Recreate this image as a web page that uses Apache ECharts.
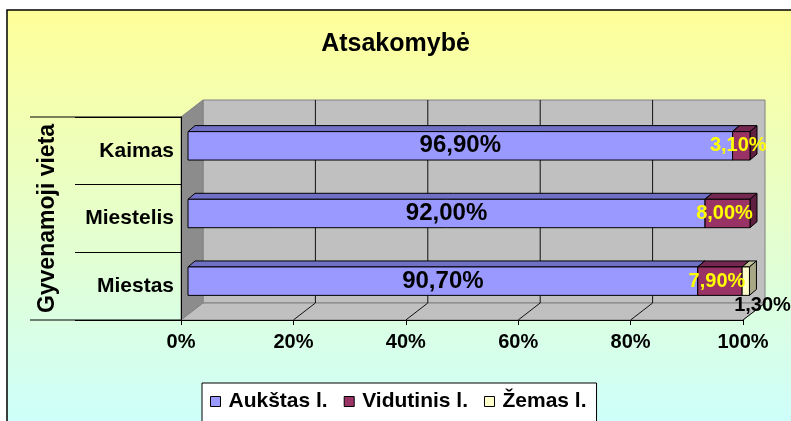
<!DOCTYPE html>
<html lang="lt">
<head>
    <meta charset="UTF-8">
    <title>Atsakomybė</title>
    <script src="https://cdn.jsdelivr.net/npm/echarts@6/dist/echarts.min.js"></script>
    <style>
        html, body { margin: 0; padding: 0; background: #fff; }
        #chart1 { width: 791px; height: 421px; }
    </style>
</head>
<body>
<div id="chart1"></div>
<script>
    // duomenys
    var categories = ['Miestas', 'Miestelis', 'Kaimas'];
    var seriesNames = ['Aukštas l.', 'Vidutinis l.', 'Žemas l.'];
    var aukstas = [90.7, 92.0, 96.9];
    var vidutinis = [7.9, 8.0, 3.1];
    var zemas = [1.3, 0, 0];
    var xTicks = [0, 20, 40, 60, 80, 100];

    var FONT = 'Liberation Sans, Arial, sans-serif';
    // 3D gylis: sienos ir stulpeliai
    var WX = 22, WY = -17;
    var OX = 7, OY = -5;
    var BX = 7, BY = -6;
    var TICK = 106, FRAME = 151;

    var faces = [
        {front: '#9999ff', top: '#7070c4', side: '#5c5ca8'},
        {front: '#993366', top: '#742750', side: '#5e1f41'},
        {front: '#ffffcc', top: '#c4c49c', side: '#a8a886'}
    ];

    function fmt(v) {
        return v.toFixed(2).replace('.', ',') + '%';
    }

    function renderWalls(params, api) {
        var band = api.size([0, 1])[1];
        var pL = api.coord([xTicks[0], 0]);
        var pR = api.coord([xTicks[xTicks.length - 1], categories.length - 1]);
        var left = pL[0], right = pR[0];
        var bottom = pL[1] + band / 2, top = pR[1] - band / 2;
        var children = [
            {type: 'rect', shape: {x: left + WX, y: top + WY, width: right - left, height: bottom - top},
                style: {fill: '#c0c0c0', stroke: '#808080', lineWidth: 1}},
            {type: 'polygon', shape: {points: [[left, top], [left + WX, top + WY], [left + WX, bottom + WY], [left, bottom]]},
                style: {fill: '#8c8c8c', stroke: '#808080', lineWidth: 1}},
            {type: 'polygon', shape: {points: [[left, bottom], [left + WX, bottom + WY], [right + WX, bottom + WY], [right, bottom]]},
                style: {fill: '#c0c0c0', stroke: '#808080', lineWidth: 1}},
            // kategoriju sriities remas
            {type: 'line', shape: {x1: left - FRAME, y1: top, x2: left, y2: top}, style: {stroke: '#000', lineWidth: 1}},
            {type: 'line', shape: {x1: left - FRAME, y1: bottom, x2: left, y2: bottom}, style: {stroke: '#000', lineWidth: 1}}
        ];
        for (var i = 1; i < xTicks.length; i++) {
            var x = api.coord([xTicks[i], 0])[0];
            if (i < xTicks.length - 1) {
                children.push({type: 'line', shape: {x1: x + WX, y1: top + WY, x2: x + WX, y2: bottom + WY},
                    style: {stroke: '#111', lineWidth: 1}});
            }
            children.push({type: 'line', shape: {x1: x, y1: bottom, x2: x + WX, y2: bottom + WY},
                style: {stroke: '#111', lineWidth: 1}});
        }
        return {type: 'group', children: children};
    }

    function makeRender(idx) {
        return function (params, api) {
            var cat = api.value(0), base = api.value(1), val = api.value(2);
            if (!(val > 0)) return;
            var band = api.size([0, 1])[1];
            var h = band * 0.42;
            var p0 = api.coord([base, cat]);
            var p1 = api.coord([base + val, cat]);
            var x0 = p0[0] + OX, x1 = p1[0] + OX, yc = p0[1] + OY;
            var t = yc - h / 2, b = yc + h / 2;
            var c = faces[idx];
            var line = {stroke: '#000', lineWidth: 1};
            var children = [
                {type: 'polygon', shape: {points: [[x0, t], [x0 + BX, t + BY], [x1 + BX, t + BY], [x1, t]]},
                    style: Object.assign({fill: c.top}, line)},
                {type: 'polygon', shape: {points: [[x1, t], [x1 + BX, t + BY], [x1 + BX, b + BY], [x1, b]]},
                    style: Object.assign({fill: c.side}, line)},
                {type: 'rect', shape: {x: x0, y: t, width: x1 - x0, height: h},
                    style: Object.assign({fill: c.front}, line)}
            ];
            var lab;
            if (idx === 0) {
                lab = {x: (x0 + x1) / 2, y: yc, align: 'center', fill: '#000', fontSize: 24};
            } else if (idx === 1) {
                lab = {x: (x0 + x1) / 2 - 3, y: yc, align: 'center', fill: '#ffff00', fontSize: 20};
            } else {
                lab = {x: x0 - 8, y: b + 10, align: 'left', fill: '#000', fontSize: 20};
            }
            children.push({type: 'text', z2: 100, style: {
                text: fmt(val), x: lab.x, y: lab.y, align: lab.align, verticalAlign: 'middle',
                fill: lab.fill, fontSize: lab.fontSize, fontWeight: 'bold', fontFamily: FONT}});
            return {type: 'group', children: children};
        };
    }

    var values = [aukstas, vidutinis, zemas];
    var base = categories.map(function () { return 0; });
    var barSeries = values.map(function (arr, idx) {
        var data = arr.map(function (v, i) { return [i, base[i], v]; });
        arr.forEach(function (v, i) { base[i] += v; });
        return {
            name: seriesNames[idx],
            type: 'custom',
            z: 2,
            renderItem: makeRender(idx),
            itemStyle: {color: faces[idx].front},
            encode: {x: [1, 2], y: 0},
            data: data
        };
    });

    var myChart = echarts.init(document.getElementById('chart1'), null, {renderer: 'canvas'});
    var option1 = {
        backgroundColor: '#fff',
        animation: false,
        graphic: [{
            type: 'rect', z: -10, silent: true,
            shape: {x: 7, y: 10, width: 800, height: 430},
            style: {
                fill: {type: 'linear', x: 0, y: 0, x2: 0, y2: 1,
                    colorStops: [{offset: 0, color: '#ffff99'}, {offset: 1, color: '#ccffff'}]},
                stroke: '#000', lineWidth: 1.5
            }
        }],
        title: {
            text: 'Atsakomybė',
            left: 'center',
            top: 32,
            padding: 0,
            textStyle: {fontFamily: FONT, fontSize: 25, fontWeight: 'bold', color: '#000'}
        },
        legend: {
            left: 202,
            top: 383,
            padding: [8, 10, 20, 8],
            backgroundColor: '#fff',
            borderColor: '#000',
            borderWidth: 1,
            borderRadius: 0,
            itemWidth: 10,
            itemHeight: 10,
            itemGap: 16,
            icon: 'rect',
            textStyle: {fontFamily: FONT, fontSize: 21, fontWeight: 'bold', color: '#000', padding: [0, 0, 0, 3]},
            data: seriesNames.map(function (n, i) {
                return {name: n, itemStyle: {color: faces[i].front, borderColor: '#000', borderWidth: 1}};
            })
        },
        grid: {left: 181, right: 48, top: 117, bottom: 101},
        xAxis: {
            type: 'value',
            min: xTicks[0],
            max: xTicks[xTicks.length - 1],
            interval: 20,
            z: 3,
            axisLine: {show: true, lineStyle: {color: '#000', width: 1}},
            axisTick: {show: true, length: 5, lineStyle: {color: '#000'}},
            splitLine: {show: false},
            axisLabel: {formatter: '{value}%', margin: 12, fontFamily: FONT, fontSize: 20, fontWeight: 'bold', color: '#000'}
        },
        yAxis: {
            type: 'category',
            data: categories,
            z: 3,
            name: 'Gyvenamoji vieta',
            nameLocation: 'middle',
            nameRotate: 90,
            nameGap: 122,
            nameTextStyle: {fontFamily: FONT, fontSize: 23, fontWeight: 'bold', color: '#000'},
            axisLine: {show: true, lineStyle: {color: '#000', width: 1}},
            axisTick: {show: true, length: TICK, lineStyle: {color: '#000'}},
            axisLabel: {margin: 7, fontFamily: FONT, fontSize: 21, fontWeight: 'bold', color: '#000'}
        },
        series: [{
            type: 'custom',
            z: 1,
            silent: true,
            renderItem: renderWalls,
            encode: {x: 0, y: 1},
            data: [[0, 0]]
        }].concat(barSeries)
    };
    myChart.setOption(option1);
</script>
</body>
</html>
